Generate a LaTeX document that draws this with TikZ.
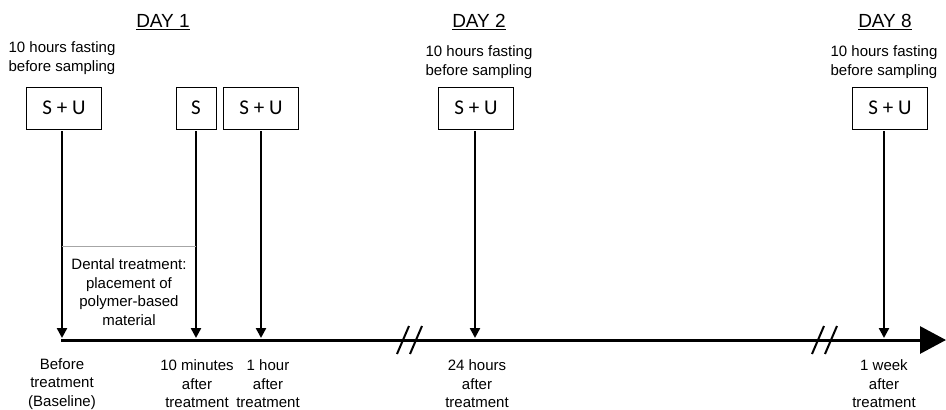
\documentclass[tikz,border=0pt]{standalone}
\usepackage{fontspec}
\setmainfont{Liberation Sans}
\newfontfamily\boxfont{Carlito}
\usetikzlibrary{arrows.meta,positioning}

\begin{document}
\begin{tikzpicture}[
      x=1pt, y=-1pt,
      txt/.style={align=center, inner sep=0pt, font=\fontsize{15}{18.5}\selectfont},
      daylbl/.style={inner sep=0pt, font=\fontsize{19}{22}\selectfont},
      sample/.style={draw, line width=0.9pt, minimum width=75pt, minimum height=42pt, inner sep=0pt, font=\boxfont\fontsize{21}{24}\selectfont},
      arr/.style={-{Triangle[length=10pt,width=10pt]}, line width=2.4pt, shorten <=2pt},
      axis/.style={-{Triangle[length=26pt,width=27pt]}, line width=3pt},
      brk/.style={line width=2pt},
      sep/.style={gray!70, line width=0.8pt},
    ]
    \useasboundingbox (0,0) rectangle (946,410);
    % time axis
    \coordinate (axL) at (61,340);
    \coordinate (axR) at (946,340);
    \draw[axis] (axL) -- (axR);
    \foreach \bx in {403,416,818,831}
      \draw[brk] (\bx-6,354) -- (\bx+6,326);
    % sampling points on the axis
    \coordinate (t1) at (62,338);
    \coordinate (t2) at (196,338);
    \coordinate (t3) at (261,338);
    \coordinate (t4) at (475,338);
    \coordinate (t5) at (884,338);
    % day headings
    \node[daylbl] (d1) at (163,22) {\underline{DAY 1}};
    \node[daylbl] (d2) at (479,22) {\underline{DAY 2}};
    \node[daylbl] (d8) at (885,22) {\underline{DAY 8}};
    \node[txt] (f1) at (62,58) {10 hours fasting\\before sampling};
    \node[txt] (f2) at (479,62) {10 hours fasting\\before sampling};
    \node[txt] (f8) at (884,62) {10 hours fasting\\before sampling};
    % samples
    \node[sample] (b1) at (64,108) {S + U};
    \node[sample, minimum width=40pt] (b2) at (196,108) {S};
    \node[sample] (b3) at (261,108) {S + U};
    \node[sample] (b4) at (476,108) {S + U};
    \node[sample] (b5) at (890,108) {S + U};
    \draw[arr] (b1.south -| t1) -- (t1);
    \draw[arr] (b2.south -| t2) -- (t2);
    \draw[arr] (b3.south -| t3) -- (t3);
    \draw[arr] (b4.south -| t4) -- (t4);
    \draw[arr] (b5.south -| t5) -- (t5);
    % treatment interval
    \coordinate (g1) at (62,246);
    \coordinate (g2) at (196,246);
    \draw[sep] (g1) -- (g2);
    \node[txt] (dent) at (129,292) {Dental treatment:\\placement of\\polymer-based\\material};
    % time labels
    \node[txt] (l1) at (62,384) {Before\\treatment\\(Baseline)};
    \node[txt] (l2) at (197,384) {10 minutes\\after\\treatment};
    \node[txt] (l3) at (268,384) {1 hour\\after\\treatment};
    \node[txt] (l4) at (477,384) {24 hours\\after\\treatment};
    \node[txt] (l5) at (884,384) {1 week\\after\\treatment};
  \end{tikzpicture}
\end{document}
